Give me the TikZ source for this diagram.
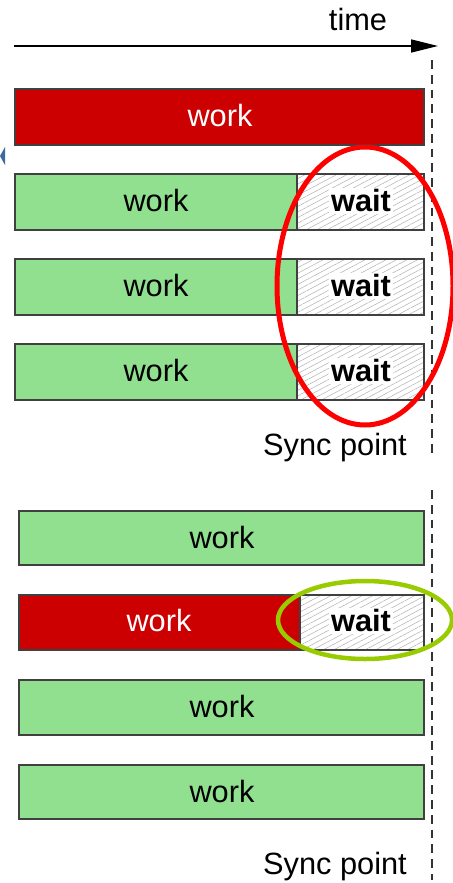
\documentclass[tikz,border=0pt]{standalone}
\usepackage{fontspec}
\setmainfont{Liberation Sans}
\usetikzlibrary{arrows.meta,patterns.meta}

\definecolor{busyred}{HTML}{CC0000}
\definecolor{workgreen}{HTML}{90E090}
\definecolor{ringred}{HTML}{FF0000}
\definecolor{ringgreen}{HTML}{99CC00}
\definecolor{markblue}{HTML}{3D6A9E}

\tikzset{
  bar/.style={draw=black!75, line width=0.8pt},
  idle/.style={bar, pattern={Lines[angle=28, distance=2.8pt, line width=0.3pt]}, pattern color=black!30},
  lbl/.style={font=\fontsize{17.5}{21}\selectfont, inner sep=1pt},
  waitlbl/.style={font=\fontsize{17.5}{21}\selectfont\bfseries, fill=white, inner sep=1pt},
  syncline/.style={draw=black!80, line width=0.8pt, dash pattern=on 5pt off 3.4pt}
}

\begin{document}
\begin{tikzpicture}[x=0.2mm, y=-0.2mm]
\useasboundingbox (0,0) rectangle (453,883);

% time axis
\coordinate (t0) at (14,46);
\coordinate (t1) at (438,46);
\draw[line width=0.85pt, -{Triangle[length=5.4mm, width=2.6mm]}] (t0) -- (t1);
\node[lbl] (time) at (358,20) {time};

% stray marker on the left
\fill[markblue] (5,147) -- (5,165) -- (0,156) -- cycle;

% upper run
\draw[syncline] (432,60) -- (432,458);
\draw[bar, fill=busyred] (15,89) rectangle (424,145);
\node[lbl, white] (a1) at (220,116) {work};
\foreach \y/\n in {174/2, 259/3, 344/4} {
  \draw[bar, fill=workgreen] (15,\y) rectangle (297,\y+56);
  \draw[idle] (297,\y) rectangle (424,\y+56);
  \node[lbl] (a\n) at (156,\y+27) {work};
  \node[waitlbl] (aw\n) at (361,\y+27) {wait};
}
\node[lbl] (sync1) at (335,448) {Sync point};
\draw[ringred, line width=1mm] (365,286) ellipse [x radius=88, y radius=139];

% lower run
\draw[syncline] (432,490) -- (432,880);
\draw[bar, fill=workgreen] (19,511) rectangle (424,565);
\node[lbl] (b1) at (222,537) {work};
\draw[bar, fill=busyred] (19,595) rectangle (300,650);
\draw[idle] (300,595) rectangle (424,650);
\node[lbl, white] (b2) at (159,621) {work};
\node[waitlbl] (bw2) at (361,621) {wait};
\draw[bar, fill=workgreen] (19,680) rectangle (424,735);
\node[lbl] (b3) at (222,706) {work};
\draw[bar, fill=workgreen] (19,765) rectangle (424,819);
\node[lbl] (b4) at (222,791) {work};
\node[lbl] (sync2) at (335,867) {Sync point};
\draw[ringgreen, line width=0.9mm] (365,620) ellipse [x radius=87, y radius=39];

\end{tikzpicture}
\end{document}
